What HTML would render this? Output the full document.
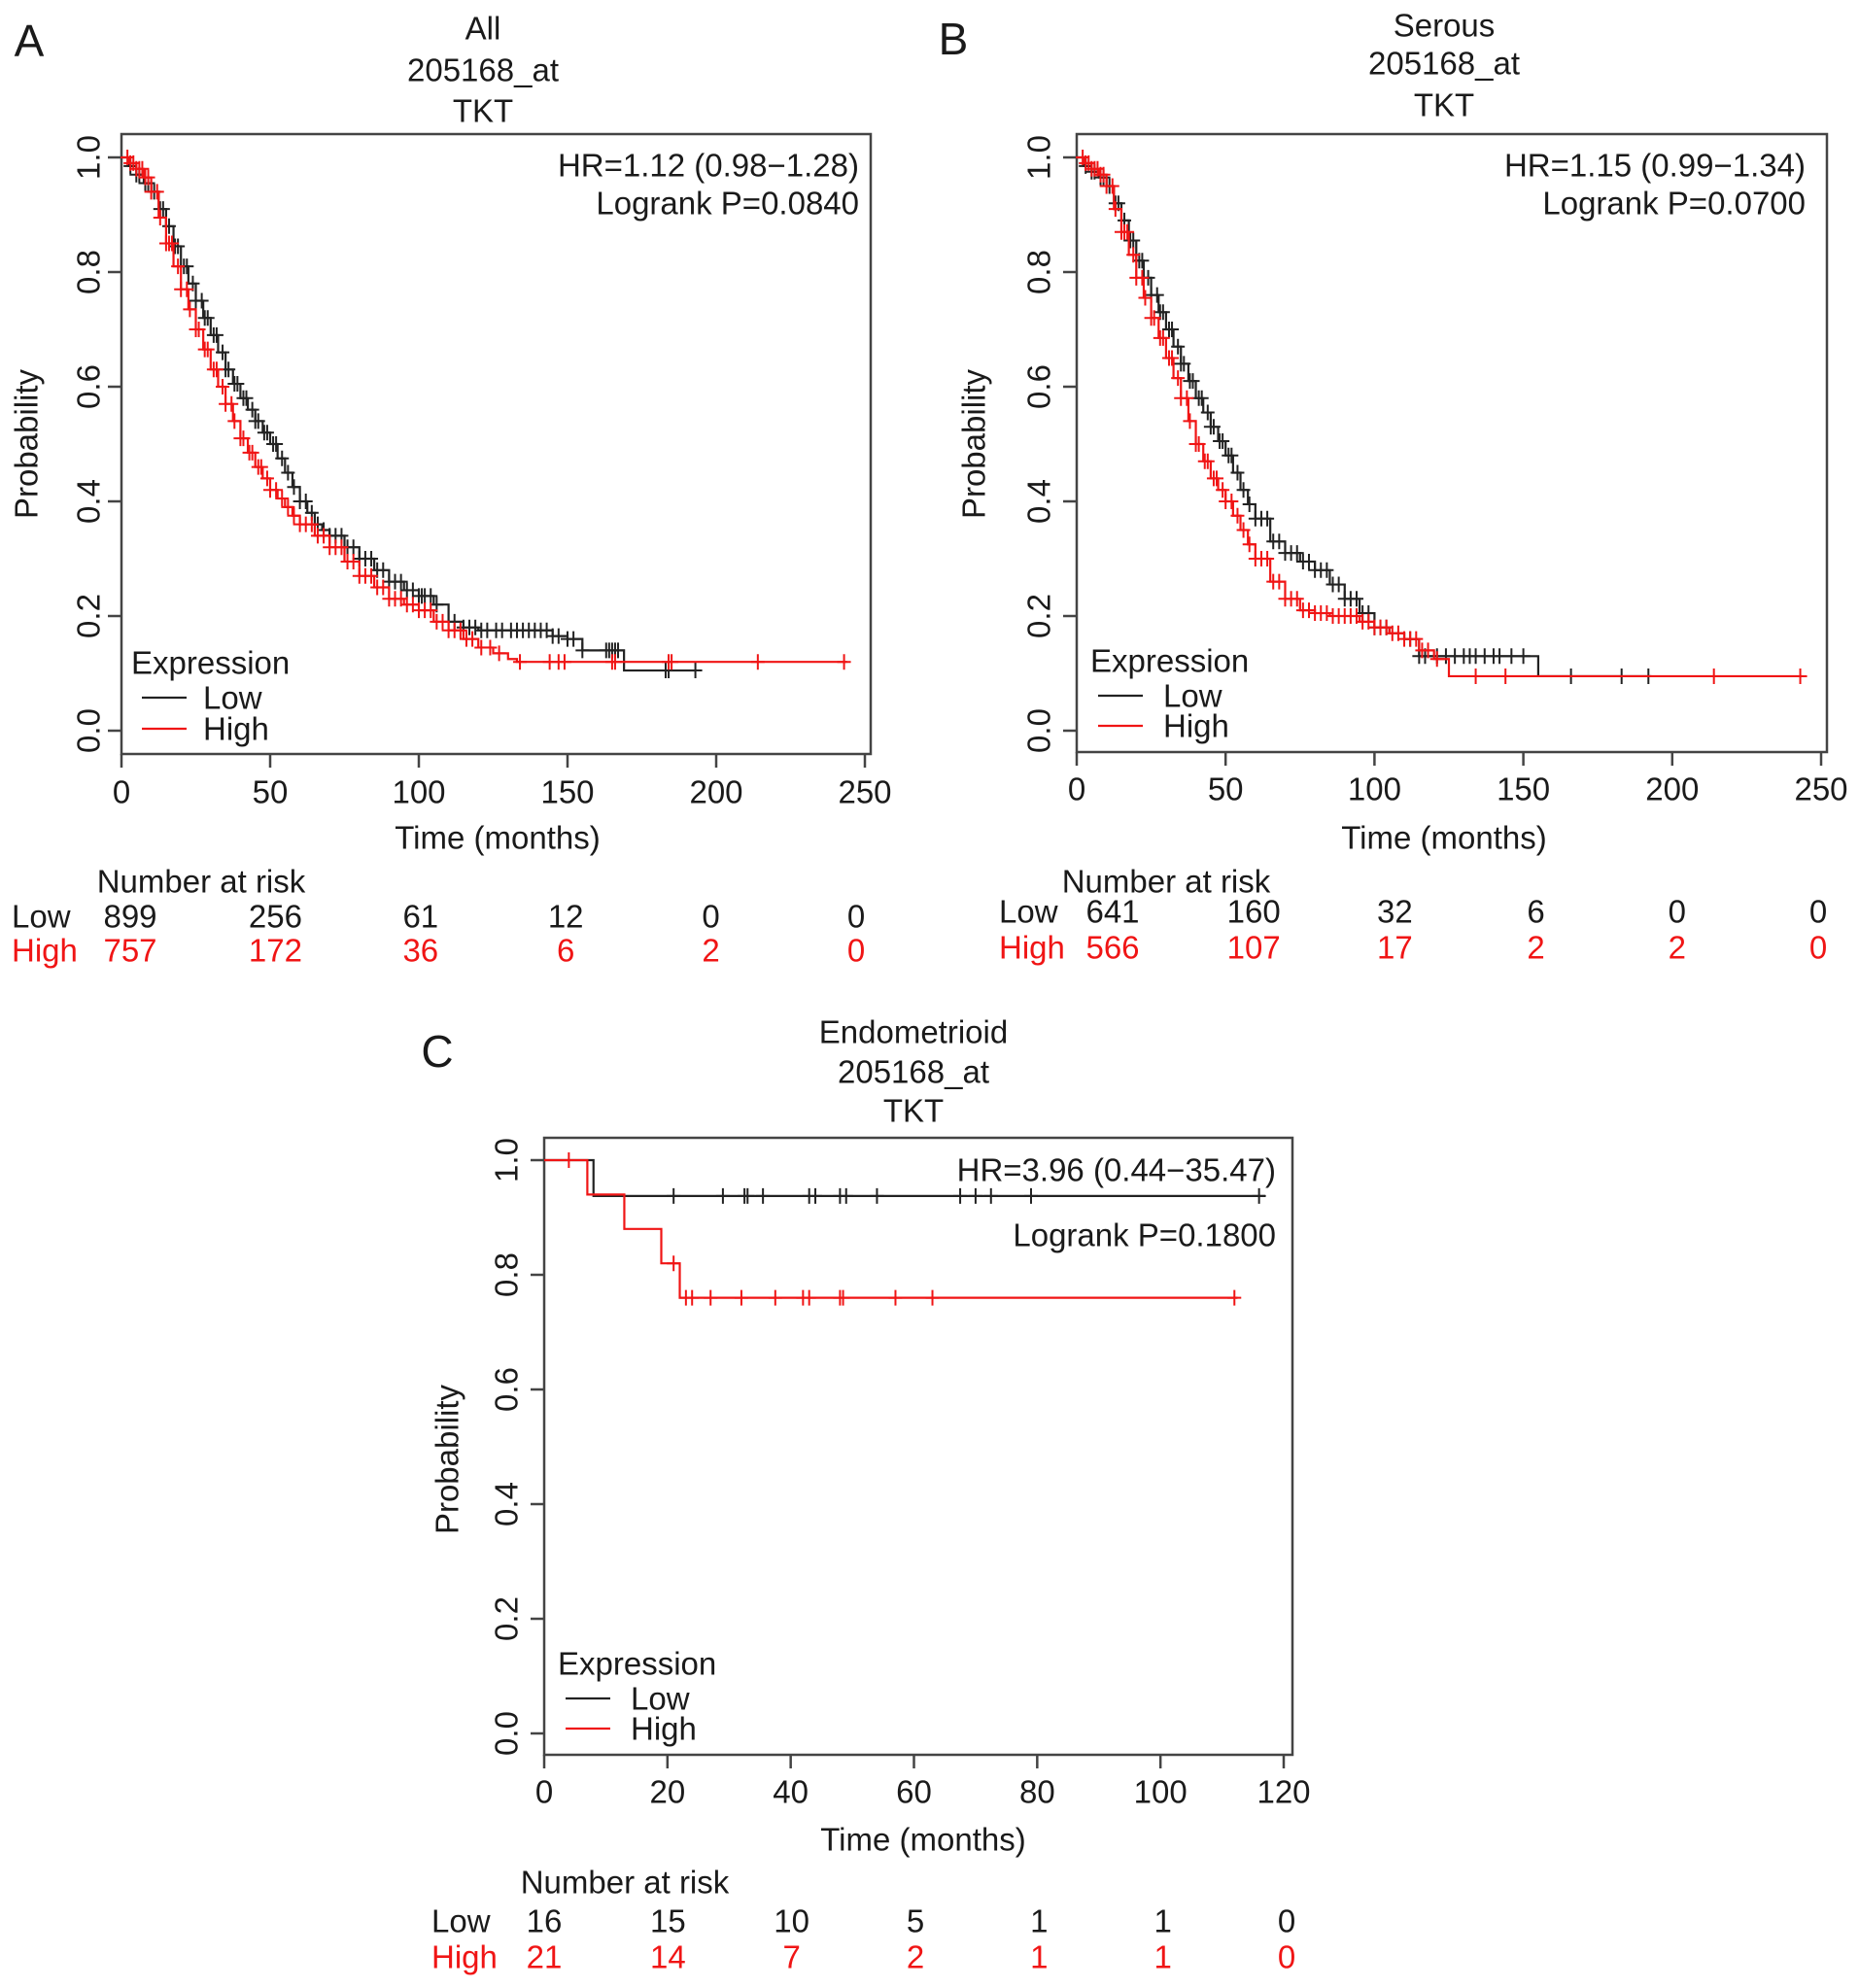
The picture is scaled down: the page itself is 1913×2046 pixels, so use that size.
<!DOCTYPE html>
<html><head><meta charset="utf-8">
<style>
html,body{margin:0;padding:0;background:#fff;}
svg{display:block;font-family:"Liberation Sans",Arial,sans-serif;}
</style></head>
<body>
<svg id="fig" width="1913" height="2046" viewBox="0 0 1913 2046" xmlns="http://www.w3.org/2000/svg"></svg>
<script>
// ---------- DATA ----------
// Panel A (All)
const aLowT  = [0,2.5,5,7.5,10,12.5,15,17.5,20,22.5,25,27.5,30,32.5,35,37.5,40,42.5,45,47.5,50,52.5,55,57.5,60,62.5,65,67.5,70,75,80,85,90,95,100,105,110,115,120,145,150,155,169,193];
const aLowS  = [1,.985,.97,.955,.94,.91,.88,.845,.81,.78,.75,.72,.69,.66,.63,.605,.58,.56,.54,.52,.50,.475,.45,.425,.40,.38,.36,.35,.34,.32,.30,.28,.26,.245,.235,.22,.19,.18,.175,.165,.16,.14,.105,.105];
const aHighT = [0,2.5,5,7.5,10,12.5,15,17.5,20,22.5,25,27.5,30,32.5,35,37.5,40,42.5,45,47.5,50,52.5,55,57.5,60,65,70,75,80,85,90,95,100,105,110,115,120,125,130,133,244];
const aHighS = [1,.99,.98,.965,.94,.895,.85,.81,.77,.735,.70,.665,.63,.60,.57,.54,.51,.485,.46,.44,.42,.405,.39,.375,.36,.34,.32,.295,.27,.25,.23,.22,.21,.19,.175,.16,.145,.135,.125,.12,.12];
const aLowCens  = [3,5,6,8,9,11,13,14,16,18,19,21,22,24,25,27,28,29,31,32,34,35,36,38,39,41,42,44,45,46,48,49,51,52,54,56,58,60,62,64,66,68,70,72,74,76,78,80,82,84,86,88,90,92,94,96,98,100,101,102,104,106,112,115,117,119,121,123,126,128,131,133,135,137,139,141,143,145,147,150,152,155,163,164,165,166,167,183,184,193];
const aHighCens = [2,3,4,5,6,7,8,9,10,12,13,15,16,17,19,20,22,23,25,26,28,29,31,32,34,35,37,38,40,41,43,44,46,47,49,50,52,54,56,58,60,62,64,66,68,70,72,74,76,78,80,82,84,86,88,90,92,94,96,98,100,102,104,106,108,110,112,114,116,118,121,124,127,134,144,147,149,165,166,184,185,214,243];
const aRiskLow  = ["899","256","61","12","0","0"];
const aRiskHigh = ["757","172","36","6","2","0"];
// Panel B (Serous)
const bLowT  = [0,2.5,5,7.5,10,12.5,15,17.5,20,22.5,25,27.5,30,32.5,35,37.5,40,42.5,45,47.5,50,52.5,55,57.5,60,65,70,75,80,85,90,95,100,105,110,115,154,155,193];
const bLowS  = [1,.985,.975,.965,.95,.92,.89,.855,.82,.79,.76,.73,.70,.67,.64,.61,.58,.555,.53,.505,.48,.45,.42,.395,.37,.33,.31,.295,.28,.255,.23,.205,.18,.17,.16,.13,.13,.095,.095];
const bHighT = [0,2.5,5,7.5,10,12.5,15,17.5,20,22.5,25,27.5,30,32.5,35,37.5,40,42.5,45,47.5,50,52.5,55,57.5,60,65,70,75,80,85,90,95,100,105,110,115,120,125,244];
const bHighS = [1,.99,.98,.97,.95,.91,.87,.83,.79,.755,.72,.685,.65,.615,.58,.54,.50,.47,.44,.42,.40,.375,.35,.325,.30,.26,.23,.21,.205,.20,.20,.19,.18,.17,.16,.14,.125,.095,.095];
const bLowCens  = [3,5,6,8,9,11,13,14,16,18,19,21,22,24,25,27,28,29,31,32,34,35,36,38,39,41,42,44,45,46,48,49,51,52,54,56,58,60,62,64,66,68,70,72,74,76,78,80,82,84,86,88,90,92,94,96,98,100,102,104,112,115,117,121,124,127,130,132,134,137,140,142,146,150,166,183,192];
const bHighCens = [2,3,4,5,6,7,8,9,10,12,13,15,16,17,19,20,22,23,25,26,28,29,31,32,34,35,37,38,40,41,43,44,46,47,49,50,52,54,56,58,60,62,64,66,68,70,72,74,76,78,80,82,84,86,88,90,92,94,96,98,100,102,104,106,108,110,112,114,116,118,121,134,144,214,243];
const bRiskLow  = ["641","160","32","6","0","0"];
const bRiskHigh = ["566","107","17","2","2","0"];
// Panel C (Endometrioid)
const cLowT  = [0,8,117];
const cLowS  = [1,.9375,.9375];
const cHighT = [0,7,13,19,22,112.5];
const cHighS = [1,.94,.88,.82,.76,.76];
const cLowCens  = [21,29,32.5,33,35.5,43,44,48,49,54,67.5,70,72.5,79,116];
const cHighCens = [4,21,23,24,27,32,37.5,42,43,48,48.5,57,63,112];
const cRiskLow  = ["16","15","10","5","1","1","0"];
const cRiskHigh = ["21","14","7","2","1","1","0"];
const xTicksAB = [0,50,100,150,200,250];
const xTicksC  = [0,20,40,60,80,100,120];
const yTicks   = [0,0.2,0.4,0.6,0.8,1.0];

// ---------- DRAW ----------
const NS = "http://www.w3.org/2000/svg";
const svg = document.getElementById('fig');
function mk(tag, attrs, parent){const e=document.createElementNS(NS,tag);for(const k in attrs)e.setAttribute(k,attrs[k]);(parent||svg).appendChild(e);return e;}
function txt(s, x, y, opts, parent){
  const e = mk('text', Object.assign({x:x,y:y,'font-size':33,'dominant-baseline':'central',fill:'#1a1a1a'}, opts||{}), parent);
  e.textContent = s; return e;
}
function stepVal(T,S,t){let v=S[0];for(let i=0;i<T.length;i++){if(T[i]<=t)v=S[i];}return v;}

function panel(c){
  const g = mk('g',{});
  
  
  const xs = t => c.x0 + t/(c.xmax) * (c.x1 - c.x0);
  const ys = s => c.y0 - s * (c.y0 - c.y1);
  const L = txt(c.letter, c.letterX, c.letterY, {'font-size':46,'text-anchor':'middle'}, g);
   
  c.titles.forEach((s,i)=>{
    const t = txt(s, c.titleX, c.titleY[i], {'text-anchor':'middle'}, g);
     
  });
  const box = mk('rect',{x:c.box[0],y:c.box[1],width:c.box[2]-c.box[0],height:c.box[3]-c.box[1],fill:'none',stroke:'#444','stroke-width':2.5},g);
   
  c.xTicks.forEach(t=>{
    const tk = mk('line',{x1:xs(t),x2:xs(t),y1:c.box[3],y2:c.box[3]+14,stroke:'#444','stroke-width':2.5},g);
     
    const lb = txt(String(t), xs(t), c.xLabY, {'text-anchor':'middle'}, g);
     
  });
  yTicks.forEach(v=>{
    const tk = mk('line',{x1:c.box[0]-14,x2:c.box[0],y1:ys(v),y2:ys(v),stroke:'#444','stroke-width':2.5},g);
     
    const lb = txt(v.toFixed(1), c.yLabX, ys(v), {'text-anchor':'middle',transform:`rotate(-90 ${c.yLabX} ${ys(v)})`}, g);
     
  });
  const yt = txt('Probability', c.probX, c.probY, {'text-anchor':'middle',transform:`rotate(-90 ${c.probX} ${c.probY})`}, g);
   
  const xt = txt('Time (months)', c.timeX, c.timeY, {'text-anchor':'middle'}, g);
   
  [[c.lowT,c.lowS,c.lowC,'#222','low'],[c.highT,c.highS,c.highC,'#f01515','high']].forEach(([T,S,C,col,nm])=>{
    let d = `M${xs(T[0])},${ys(S[0])}`;
    for(let i=1;i<T.length;i++){ d += ` H${xs(T[i])} V${ys(S[i])}`; }
    const p = mk('path',{d:d,fill:'none',stroke:col,'stroke-width':2.2},g);
     
    let cd='';
    C.forEach(t=>{const X=xs(t),Y=ys(stepVal(T,S,t));cd+=`M${X-7},${Y} H${X+7} M${X},${Y-8} V${Y+8} `;});
    const cm = mk('path',{d:cd,fill:'none',stroke:col,'stroke-width':2},g);
     
  });
  const h1 = txt(c.hr, c.hrX, c.hrY[0], {'text-anchor':'end'}, g);
   
  const h2 = txt(c.p, c.hrX, c.hrY[1], {'text-anchor':'end'}, g);
   
  const lg = mk('g',{},g);
   
  txt('Expression', c.leg.x, c.leg.y, {}, lg);
  const l1 = mk('line',{x1:c.leg.lx,x2:c.leg.lx+46,y1:c.leg.y1,y2:c.leg.y1,stroke:'#222','stroke-width':2.2},lg);
   
  txt('Low', c.leg.tx, c.leg.y1, {}, lg);
  const l2 = mk('line',{x1:c.leg.lx,x2:c.leg.lx+46,y1:c.leg.y2,y2:c.leg.y2,stroke:'#f01515','stroke-width':2.2},lg);
   
  txt('High', c.leg.tx, c.leg.y2, {}, lg);
  const rt = mk('g',{},g);
   
  txt('Number at risk', c.nar.cx, c.nar.y, {'text-anchor':'middle'}, rt);
  txt('Low', c.nar.labX, c.nar.yLow, {}, rt);
  txt('High', c.nar.labX, c.nar.yHigh, {fill:'#f01515'}, rt);
  const n = c.riskLow.length;
  c.riskLow.forEach((v,i)=>{ txt(v, c.nar.c0 + i*(c.nar.c1-c.nar.c0)/(n-1), c.nar.yLow, {'text-anchor':'middle'}, rt); });
  c.riskHigh.forEach((v,i)=>{ txt(v, c.nar.c0 + i*(c.nar.c1-c.nar.c0)/(n-1), c.nar.yHigh, {'text-anchor':'middle',fill:'#f01515'}, rt); });
}

panel({name:'panel-a-all',letter:'A',letterX:30,letterY:42,titles:['All','205168_at','TKT'],titleX:497,titleY:[29,72,114],
  x0:125,x1:890,xmax:250,y0:752,y1:162,box:[125,138,896,776],xTicks:xTicksAB,xLabY:815,yLabX:91,probX:27,probY:457,timeX:512,timeY:862,
  lowT:aLowT,lowS:aLowS,lowC:aLowCens,highT:aHighT,highS:aHighS,highC:aHighCens,
  hr:'HR=1.12 (0.98\u22121.28)',p:'Logrank P=0.0840',hrX:884,hrY:[170,209],
  leg:{x:135,y:682,y1:718,y2:750,lx:146,tx:209},
  riskLow:aRiskLow,riskHigh:aRiskHigh,nar:{cx:207,y:907,labX:12,yLow:943,yHigh:978,c0:134,c1:881}});

panel({name:'panel-b-serous',letter:'B',letterX:981,letterY:40,titles:['Serous','205168_at','TKT'],titleX:1486,titleY:[26,65,108],
  x0:1108,x1:1874,xmax:250,y0:752,y1:162,box:[1108,138,1880,774],xTicks:xTicksAB,xLabY:812,yLabX:1069,probX:1002,probY:457,timeX:1486,timeY:862,
  lowT:bLowT,lowS:bLowS,lowC:bLowCens,highT:bHighT,highS:bHighS,highC:bHighCens,
  hr:'HR=1.15 (0.99\u22121.34)',p:'Logrank P=0.0700',hrX:1858,hrY:[170,209],
  leg:{x:1122,y:680,y1:716,y2:747,lx:1130,tx:1197},
  riskLow:bRiskLow,riskHigh:bRiskHigh,nar:{cx:1200,y:907,labX:1028,yLow:938,yHigh:975,c0:1145,c1:1871}});

panel({name:'panel-c-endometrioid',letter:'C',letterX:450,letterY:1082,titles:['Endometrioid','205168_at','TKT'],titleX:940,titleY:[1062,1103,1143],
  x0:560,x1:1321,xmax:120,y0:1784,y1:1194,box:[560,1171,1330,1806],xTicks:xTicksC,xLabY:1844,yLabX:521,probX:460,probY:1502,timeX:950,timeY:1893,
  lowT:cLowT,lowS:cLowS,lowC:cLowCens,highT:cHighT,highS:cHighS,highC:cHighCens,
  hr:'HR=3.96 (0.44\u221235.47)',p:'Logrank P=0.1800',hrX:1313,hrY:[1204,1271],
  leg:{x:574,y:1712,y1:1748,y2:1779,lx:582,tx:649},
  riskLow:cRiskLow,riskHigh:cRiskHigh,nar:{cx:643,y:1937,labX:444,yLow:1977,yHigh:2014,c0:560,c1:1324}});
</script>
</body></html>
